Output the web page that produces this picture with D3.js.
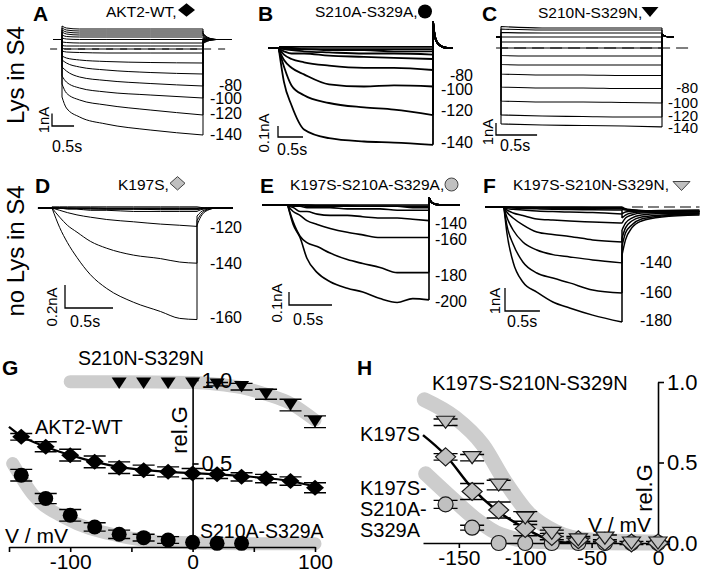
<!DOCTYPE html>
<html>
<head>
<meta charset="utf-8">
<script src="https://cdn.jsdelivr.net/npm/d3@7"></script>
<style>
body { margin: 0; background: #fff; }
svg text { font-family: "Liberation Sans", Arial, sans-serif; fill: #000; }
</style>
</head>
<body>
<svg id="fig" width="702" height="572"></svg>
<script>
// ---- current traces: time in s, current in nA, one row per step potential (mV)

// A  AKT2-WT
var tA = [0, 0.1, 0.4, 1.0, 2.0, 3.2];
var vA = [160, 140, 120, 100, 80, 60, 40, 20, 0, -20, -40, -60, -80, -100, -120, -140];
var iA = [
  [1.84, 1.68, 1.6, 1.6, 1.6, 1.6],
  [1.68, 1.52, 1.44, 1.44, 1.44, 1.44],
  [1.52, 1.36, 1.28, 1.28, 1.28, 1.28],
  [1.36, 1.2, 1.12, 1.12, 1.12, 1.12],
  [1.12, 1.0, 0.96, 0.96, 0.96, 0.96],
  [0.88, 0.8, 0.76, 0.76, 0.76, 0.76],
  [0.56, 0.52, 0.48, 0.48, 0.48, 0.48],
  [0.28, 0.24, 0.24, 0.24, 0.24, 0.24],
  [0.04, 0, 0, 0, 0, 0],
  [-0.16, -0.24, -0.28, -0.32, -0.32, -0.32],
  [-0.56, -0.72, -0.88, -1.0, -1.08, -1.12],
  [-0.88, -1.12, -1.44, -1.68, -1.88, -2.0],
  [-1.44, -1.76, -2.24, -2.52, -2.76, -2.96],
  [-2.16, -2.64, -3.12, -3.44, -3.68, -3.92],
  [-2.8, -3.52, -4.08, -4.48, -4.88, -5.28],
  [-3.84, -4.72, -5.44, -6.0, -6.48, -6.88]
];
var holdA = 0.76;
var tTailA = [3.2, 3.3, 3.5, 3.84];
var tailA = [
  [1.28, 0.95, 0.76, 0.76], [1.2, 0.92, 0.76, 0.76], [1.12, 0.9, 0.76, 0.76], [1.04, 0.86, 0.76, 0.76],
  [0.96, 0.82, 0.76, 0.76], [0.88, 0.8, 0.76, 0.76], [0.8, 0.77, 0.76, 0.76], [0.76, 0.76, 0.76, 0.76],
  [0.72, 0.75, 0.76, 0.76], [0.68, 0.73, 0.76, 0.76], [0.64, 0.72, 0.76, 0.76], [0.6, 0.7, 0.76, 0.76],
  [0.56, 0.68, 0.76, 0.76], [0.52, 0.66, 0.76, 0.76], [0.48, 0.64, 0.76, 0.76], [0.44, 0.62, 0.76, 0.76]
];

// B  S210A-S329A
var tB = [0, 0.1, 0.25, 0.5, 1.0, 1.7, 2.3, 3.08];
var vB = [20, 0, -20, -40, -60, -80, -100, -120, -140];
var iB = [
  [0.01, 0.01, 0.01, 0.01, 0.01, 0.01, 0.01, 0.01],
  [0, 0, 0, -0.01, -0.01, -0.01, -0.01, -0.01],
  [0, 0, -0.01, -0.01, -0.02, -0.02, -0.03, -0.03],
  [0, -0.01, -0.02, -0.03, -0.04, -0.05, -0.05, -0.06],
  [-0.01, -0.03, -0.05, -0.05, -0.07, -0.08, -0.09, -0.1],
  [-0.01, -0.06, -0.1, -0.13, -0.16, -0.18, -0.18, -0.2],
  [-0.02, -0.11, -0.18, -0.24, -0.33, -0.35, -0.34, -0.35],
  [-0.02, -0.17, -0.34, -0.43, -0.5, -0.54, -0.56, -0.61],
  [-0.02, -0.31, -0.52, -0.74, -0.82, -0.85, -0.86, -0.88]
];
var holdB = 0;
var tTailB = [3.08, 3.12, 3.2, 3.36, 3.48];
var tailB = [0.24, 0.1, 0.03, 0, 0];

// C  S210N-S329N
var tC = [0, 0.5, 1.0, 1.5, 1.96];
var vC = [100, 80, 60, 40, 20, 0, -20, -40, -60, -80, -100, -120, -140];
var iC = [
  [1.79, 1.67, 1.67, 1.67, 1.67],
  [1.58, 1.5, 1.5, 1.5, 1.5],
  [1.29, 1.25, 1.25, 1.25, 1.25],
  [0.92, 0.92, 0.92, 0.92, 0.92],
  [0.5, 0.5, 0.5, 0.5, 0.5],
  [0, 0, 0, 0, 0],
  [-0.63, -0.67, -0.67, -0.67, -0.67],
  [-1.38, -1.42, -1.42, -1.42, -1.42],
  [-2.17, -2.25, -2.25, -2.29, -2.29],
  [-3.25, -3.33, -3.33, -3.38, -3.38],
  [-4.42, -4.5, -4.5, -4.54, -4.58],
  [-5.58, -5.67, -5.71, -5.75, -5.75],
  [-6.33, -6.42, -6.46, -6.5, -6.58]
];
var holdC = 0.92;
var tTailC = [1.96, 2.0, 2.05, 2.1];
var tailC = [1.15, 0.98, 0.92, 0.92];

// D  K197S
var tD = [0, 0.08, 0.16, 0.26, 0.4, 0.57, 0.85, 1.13, 1.33, 1.51];
var vD = [0, -20, -40, -60, -80, -100, -120, -140, -160];
var iD = [
  [0.01, 0.01, 0.01, 0.01, 0.01, 0.01, 0.01, 0.01, 0.01, 0.01],
  [0, 0, 0, 0, 0, 0, 0, 0, 0, 0],
  [0, 0, 0, 0, 0, -0.005, -0.005, -0.005, -0.005, -0.005],
  [0, 0, 0, -0.005, -0.005, -0.01, -0.01, -0.01, -0.01, -0.01],
  [0, 0, -0.005, -0.005, -0.01, -0.01, -0.01, -0.015, -0.015, -0.015],
  [0, 0, -0.01, -0.01, -0.02, -0.02, -0.03, -0.03, -0.03, -0.03],
  [0, -0.02, -0.04, -0.06, -0.08, -0.1, -0.12, -0.14, -0.15, -0.16],
  [0, -0.08, -0.15, -0.21, -0.29, -0.35, -0.41, -0.44, -0.47, -0.48],
  [0, -0.17, -0.3, -0.43, -0.58, -0.7, -0.82, -0.9, -0.96, -0.97]
];
var holdD = 0;
var tTailD = [1.51, 1.55, 1.62, 1.72, 1.885];
var tailD = [
  [0.01, 0.005, 0, 0, 0], [0, 0, 0, 0, 0], [-0.005, 0, 0, 0, 0],
  [-0.01, -0.005, 0, 0, 0], [-0.015, -0.008, 0, 0, 0], [-0.03, -0.015, -0.005, 0, 0],
  [-0.07, -0.035, -0.01, 0, 0], [-0.11, -0.055, -0.015, 0, 0], [-0.15, -0.075, -0.02, 0, 0]
];

// E  K197S-S210A-S329A
var tE = [0, 0.06, 0.14, 0.22, 0.34, 0.49, 0.69, 0.87, 1.07, 1.27, 1.45, 1.64];
var vE = [-60, -80, -100, -120, -140, -160, -180, -200];
var iE = [
  [0, 0, 0, 0, 0, 0, 0, 0, 0, 0, 0, 0],
  [0, 0, 0, 0, -0.005, -0.005, -0.005, -0.01, -0.01, -0.01, -0.01, -0.01],
  [0, 0, 0, -0.01, -0.01, -0.01, -0.01, -0.01, -0.01, -0.01, -0.02, -0.02],
  [0, -0.01, -0.01, -0.02, -0.02, -0.02, -0.03, -0.03, -0.03, -0.04, -0.04, -0.04],
  [-0.01, -0.02, -0.05, -0.05, -0.07, -0.08, -0.08, -0.09, -0.1, -0.1, -0.11, -0.12],
  [-0.01, -0.05, -0.08, -0.12, -0.15, -0.18, -0.21, -0.23, -0.25, -0.25, -0.25, -0.25],
  [-0.01, -0.13, -0.24, -0.29, -0.32, -0.37, -0.42, -0.45, -0.48, -0.52, -0.52, -0.52],
  [-0.01, -0.15, -0.25, -0.41, -0.52, -0.59, -0.64, -0.67, -0.72, -0.75, -0.72, -0.73]
];
var holdE = 0;
var tTailE = [1.64, 1.67, 1.72, 1.8, 2.0];
var tailE = [0.06, 0.02, 0.005, 0, 0];

// F  K197S-S210N-S329N
var tF = [0, 0.04, 0.13, 0.27, 0.47, 0.7, 0.94, 1.27, 1.69];
var vF = [0, -20, -40, -60, -80, -100, -120, -140, -160, -180];
var iF = [
  [0, 0, 0, 0, 0, 0, 0, 0, 0],
  [0, 0, -0.01, -0.01, -0.02, -0.02, -0.02, -0.03, -0.03],
  [0, -0.01, -0.02, -0.03, -0.04, -0.05, -0.06, -0.07, -0.08],
  [0, -0.02, -0.04, -0.06, -0.08, -0.1, -0.11, -0.12, -0.13],
  [-0.04, -0.07, -0.1, -0.13, -0.17, -0.2, -0.22, -0.24, -0.3],
  [-0.04, -0.13, -0.26, -0.37, -0.52, -0.57, -0.61, -0.65, -0.7],
  [-0.04, -0.22, -0.48, -0.78, -1.09, -1.2, -1.28, -1.43, -1.52],
  [-0.04, -0.43, -1.0, -1.52, -1.87, -2.07, -2.17, -2.3, -2.43],
  [-0.04, -0.78, -1.61, -2.39, -2.87, -3.09, -3.3, -3.61, -3.74],
  [-0.04, -1.09, -2.39, -3.26, -3.7, -4.13, -4.39, -4.7, -5.0]
];
var holdF = 0;
var tTailF = [1.69, 1.74, 1.83, 1.97, 2.26, 2.8];
var tailF = [
  [0, -0.08, -0.12, -0.15, -0.17, -0.18],
  [-0.05, -0.1, -0.14, -0.17, -0.19, -0.2],
  [-0.1, -0.13, -0.16, -0.18, -0.2, -0.21],
  [-0.3, -0.22, -0.18, -0.17, -0.15, -0.13],
  [-0.48, -0.35, -0.26, -0.22, -0.2, -0.17],
  [-0.7, -0.48, -0.35, -0.26, -0.24, -0.22],
  [-1.0, -0.7, -0.48, -0.35, -0.28, -0.26],
  [-1.35, -0.91, -0.61, -0.43, -0.35, -0.28],
  [-1.7, -1.13, -0.78, -0.52, -0.39, -0.3],
  [-2.09, -1.43, -0.91, -0.61, -0.43, -0.35]
];

// ---- G: rel. conductance vs voltage
var mvG_N = [-60, -40, -20, 0, 20, 40, 60, 80, 100];
var gG_N = [0.98, 0.98, 0.98, 0.98, 0.975, 0.96, 0.915, 0.85, 0.75];
var eG_N = [0, 0, 0, 0, 0.01, 0.02, 0.03, 0.035, 0.035];
var mvG_WT = [-140, -120, -100, -80, -60, -40, -20, 0, 20, 40, 60, 80, 100];
var gG_WT = [0.66, 0.6, 0.55, 0.51, 0.475, 0.46, 0.45, 0.44, 0.435, 0.42, 0.41, 0.395, 0.355];
var eG_WT = [0.02, 0.03, 0.035, 0.035, 0.035, 0.03, 0.03, 0.03, 0.025, 0.025, 0.025, 0.025, 0.03];
var mvG_A = [-140, -120, -100, -80, -60, -40, -20, 0, 20, 40];
var gG_A = [0.43, 0.29, 0.19, 0.12, 0.076, 0.056, 0.042, 0.028, 0.022, 0.022];
var eG_A = [0.035, 0.03, 0.035, 0.025, 0.025, 0.02, 0.02, 0, 0, 0];
var fitG_mv = [-150, -140, -120, -100, -80, -60, -40, -20, 0, 20, 40, 60, 80, 100];
var fitG_WT = [0.72, 0.665, 0.6, 0.55, 0.51, 0.48, 0.462, 0.45, 0.442, 0.435, 0.425, 0.412, 0.395, 0.36];
var bandG_N_mv = [-100, -60, 0, 20, 40, 60, 80, 100];
var bandG_N = [0.99, 0.99, 0.985, 0.975, 0.955, 0.915, 0.86, 0.76];
var bandG_A_mv = [-147, -130, -103, -62, -21, 40, 100];
var bandG_A = [0.5, 0.31, 0.17, 0.07, 0.03, 0.02, 0.02];

// ---- H
var mvH = [-160, -140, -120, -100, -80, -60, -40, -20, 0];
var gH_N = [0.75, 0.53, 0.36, 0.155, 0.06, 0.02, 0.03, 0, 0];
var eH_N = [0.02, 0.02, 0.03, 0.04, 0.02, 0.02, 0.02, 0.01, 0.01];
var gH_K = [0.535, 0.32, 0.205, 0.09, 0.04, 0.02, 0.01, 0, 0];
var eH_K = [0.02, 0.05, 0.05, 0.045, 0.02, 0.01, 0.01, 0, 0];
var gH_A = [0.24, 0.095, 0, 0, 0, 0, 0, 0, 0];
var eH_A = [0.025, 0.015, 0, 0, 0, 0, 0, 0, 0];
var fitH_mv = [-177, -160, -141, -122, -102, -88, -78, -60];
var fitH_K = [0.67, 0.545, 0.35, 0.205, 0.1, 0.04, 0.01, 0];
var bandH_N_mv = [-176, -153, -132, -115, -98, -77, -53, 0];
var bandH_N = [0.89, 0.78, 0.61, 0.38, 0.19, 0.07, 0.02, 0.005];
var bandH_A_mv = [-175, -158, -138, -118, -90, 0];
var bandH_A = [0.43, 0.3, 0.153, 0.05, 0.01, 0];

var svg = d3.select("#fig");
var grayFill = "#c0c0c0";
var bandCol = "#cdcdcd";

function txt(x, y, s, size, extra) {
  var t = svg.append("text").attr("x", x).attr("y", y).style("font-size", size + "px").text(s);
  if (extra) t.style("font-weight", extra);
  return t;
}

// marker shapes
function diamond(w, h) { return "M0," + (-h) + "L" + w + ",0L0," + h + "L" + (-w) + ",0Z"; }
function triDown(w, h) { return "M" + (-w) + "," + (-h / 2) + "L" + w + "," + (-h / 2) + "L0," + (h / 2) + "Z"; }
function circ(r) { return d3.symbol().type(d3.symbolCircle).size(Math.PI * r * r)(); }

// draw one panel of current traces
function traces(c) {
  var x = d3.scaleLinear().domain([0, c.tEnd]).range([c.x0, c.x1]);
  var y = d3.scaleLinear().domain([0, -c.barI]).range([c.y0, c.y0 + c.barPx]);
  var g = svg.append("g");
  var straight = d3.line().x(d => x(d[0])).y(d => y(d[1]));
  var smooth = d3.line().curve(d3.curveMonotoneX).x(d => x(d[0])).y(d => y(d[1]));

  if (c.dash) {
    g.append("line")
      .attr("x1", x(c.dash[0])).attr("x2", x(c.dash[1]))
      .attr("y1", y(0)).attr("y2", y(0))
      .attr("stroke", "#000").attr("stroke-width", 1.2)
      .attr("stroke-dasharray", c.dashArray);
  }

  c.I.forEach(function(vals, k) {
    var tail = Array.isArray(c.tail[0]) ? c.tail[k] : c.tail;
    var last = vals[vals.length - 1];
    var d = straight([[c.tPre, c.hold], [0, c.hold], [0, vals[0]]]) +
      smooth(c.t.map((t, i) => [t, vals[i]])) +
      straight([[c.tEnd, last], [c.tEnd, tail[0]]]) +
      smooth(c.tTail.map((t, i) => [t, tail[i]]));
    g.append("path").attr("d", d)
      .attr("fill", "none").attr("stroke", "#000")
      .attr("stroke-width", c.sw).attr("stroke-linejoin", "round");
  });

  // step potential labels next to trace ends (small nudges keep them apart)
  c.lab.forEach(function(v, j) {
    var vals = c.I[c.v.indexOf(v)];
    g.append("text")
      .attr("x", c.labX).attr("y", y(vals[vals.length - 1]) + c.labOff[j])
      .attr("dy", "0.35em").attr("text-anchor", "end")
      .style("font-size", c.labSize + "px").text(v);
  });

  // scale bar
  var bx = c.bar[0], by = c.bar[1];
  var w = x(0.5) - x(0), h = y(-c.barI) - y(0);
  g.append("path").attr("d", "M" + bx + "," + (by - h) + "V" + by + "H" + (bx + w))
    .attr("fill", "none").attr("stroke", "#000").attr("stroke-width", 1.3);
  g.append("text")
    .attr("transform", "translate(" + c.iLab[0] + "," + c.iLab[1] + ") rotate(-90)")
    .attr("text-anchor", "middle").style("font-size", "15px").text(c.barText);
  g.append("text").attr("x", c.tLab[0]).attr("y", c.tLab[1]).style("font-size", "16px").text("0.5s");
}

traces({t: tA, v: vA, I: iA, hold: holdA, tTail: tTailA, tail: tailA,
  tEnd: 3.2, x0: 62, x1: 203, y0: 49, barI: 1, barPx: 12.5, tPre: -0.2, sw: 1,
  dash: [-0.27, 3.84], dashArray: "7,7", lab: [-80, -100, -120, -140], labX: 242,
  labOff: [-1, 0, -2, -1], labSize: 16,
  bar: [52, 126], iLab: [49, 120], barText: "1nA", tLab: [52, 152]});

traces({t: tB, v: vB, I: iB, hold: holdB, tTail: tTailB, tail: tailB,
  tEnd: 3.08, x0: 279, x1: 433, y0: 48, barI: 0.1, barPx: 11, tPre: -0.22, sw: 1.8,
  dash: null, lab: [-80, -100, -120, -140], labX: 473,
  labOff: [5, 3, -5, -2], labSize: 16,
  bar: [278, 137], iLab: [269, 133], barText: "0.1nA", tLab: [277, 155]});

traces({t: tC, v: vC, I: iC, hold: holdC, tTail: tTailC, tail: tailC,
  tEnd: 1.96, x0: 501, x1: 662, y0: 48, barI: 1, barPx: 12, tPre: -0.06, sw: 1.1,
  dash: [-0.06, 2.3], dashArray: "12,6", lab: [-80, -100, -120, -140], labX: 698,
  labOff: [-1, 0, -1, 1], labSize: 15,
  bar: [496, 135], iLab: [493, 132], barText: "1nA", tLab: [500, 151]});

traces({t: tD, v: vD, I: iD, hold: holdD, tTail: tTailD, tail: tailD,
  tEnd: 1.51, x0: 52, x1: 197, y0: 208, barI: 0.2, barPx: 23, tPre: -0.146, sw: 1,
  dash: null, lab: [-120, -140, -160], labX: 242,
  labOff: [1, 0, -2], labSize: 16,
  bar: [65, 308], iLab: [57, 307], barText: "0.2nA", tLab: [70, 327]});

traces({t: tE, v: vE, I: iE, hold: holdE, tTail: tTailE, tail: tailE,
  tEnd: 1.64, x0: 288, x1: 429, y0: 205, barI: 0.1, barPx: 13, tPre: -0.3, sw: 1.6,
  dash: null, lab: [-140, -160, -180, -200], labX: 467,
  labOff: [3, 2, 3, 1], labSize: 16,
  bar: [289, 305], iLab: [282, 303], barText: "0.1nA", tLab: [293, 325]});

traces({t: tF, v: vF, I: iF, hold: holdF, tTail: tTailF, tail: tailF,
  tEnd: 1.69, x0: 504, x1: 622, y0: 207, barI: 1, barPx: 23, tPre: -0.27, sw: 1.5,
  dash: [1.833, 2.8], dashArray: "11,5", lab: [-140, -160, -180], labX: 672,
  labOff: [0, -1, -2], labSize: 16,
  bar: [505, 311], iLab: [500, 301], barText: "1nA", tLab: [507, 327]});

// panel letters and titles
[["A", 33, 21], ["B", 258, 21], ["C", 482, 21], ["D", 35, 193], ["E", 260, 193], ["F", 483, 193],
 ["G", 2, 375], ["H", 357, 375]].forEach(function(p) { txt(p[1], p[2], p[0], 21, "bold"); });

txt(106, 17, "AKT2-WT,", 15.5);
txt(315, 17, "S210A-S329A,", 15.5);
txt(538, 18, "S210N-S329N,", 15.5);
txt(118, 190, "K197S,", 15.5);
txt(290, 190, "K197S-S210A-S329A,", 15.5);
txt(513, 190, "K197S-S210N-S329N,", 15.5);

svg.append("path").attr("transform", "translate(186.5,10)").attr("d", diamond(8.5, 6.7)).attr("fill", "#000");
svg.append("path").attr("transform", "translate(425,11.5)").attr("d", circ(7)).attr("fill", "#000");
svg.append("path").attr("transform", "translate(650,12)").attr("d", triDown(8.5, 10)).attr("fill", "#000");
svg.append("path").attr("transform", "translate(177.5,183.3)").attr("d", diamond(7.5, 6.7))
  .attr("fill", grayFill).attr("stroke", "#444").attr("stroke-width", 1);
svg.append("path").attr("transform", "translate(451.5,184.5)").attr("d", circ(6.5))
  .attr("fill", grayFill).attr("stroke", "#444").attr("stroke-width", 1);
svg.append("path").attr("transform", "translate(681.5,186)").attr("d", triDown(8.5, 9))
  .attr("fill", grayFill).attr("stroke", "#444").attr("stroke-width", 1);

// row labels
svg.append("text").attr("transform", "translate(24,75) rotate(-90)").attr("text-anchor", "middle")
  .style("font-size", "24px").text("Lys in S4");
svg.append("text").attr("transform", "translate(24,251) rotate(-90)").attr("text-anchor", "middle")
  .style("font-size", "24px").text("no Lys in S4");

// ---- helpers for conductance plots
function band(xs, ys, mv, vals, w) {
  var line = d3.line().curve(d3.curveMonotoneX).x((d, i) => xs(mv[i])).y(d => ys(d));
  svg.append("path").attr("d", line(vals)).attr("fill", "none")
    .attr("stroke", bandCol).attr("stroke-width", w).attr("stroke-linecap", "round");
}
function fit(xs, ys, mv, vals, w) {
  var line = d3.line().curve(d3.curveMonotoneX).x((d, i) => xs(mv[i])).y(d => ys(d));
  svg.append("path").attr("d", line(vals)).attr("fill", "none")
    .attr("stroke", "#000").attr("stroke-width", w);
}
function errBars(xs, ys, mv, vals, errs, cap) {
  mv.forEach(function(m, i) {
    if (!errs[i]) return;
    var cx = xs(m), y1 = ys(vals[i] + errs[i]), y2 = ys(vals[i] - errs[i]);
    svg.append("path")
      .attr("d", "M" + cx + "," + y1 + "V" + y2 + "M" + (cx - cap) + "," + y1 + "H" + (cx + cap) +
        "M" + (cx - cap) + "," + y2 + "H" + (cx + cap))
      .attr("fill", "none").attr("stroke", "#000").attr("stroke-width", 1.4);
  });
}
function marks(xs, ys, mv, vals, shape, fill) {
  svg.append("g").selectAll("path").data(mv).enter().append("path")
    .attr("transform", (d, i) => "translate(" + xs(d) + "," + ys(vals[i]) + ")")
    .attr("d", shape)
    .attr("fill", fill)
    .attr("stroke", fill === "#000" ? "none" : "#1a1a1a")
    .attr("stroke-width", 1.2);
}
function styleAxis(g, size) {
  g.attr("font-size", null).attr("font-family", null);
  g.selectAll("path, line").attr("stroke", "#000").attr("stroke-width", 1.6);
  g.selectAll("text").style("font-size", size + "px");
}

// ---- G
var xG = d3.scaleLinear().domain([-150, 100]).range([9, 315]);
var yG = d3.scaleLinear().domain([0, 1]).range([547, 380]);

band(xG, yG, bandG_N_mv, bandG_N, 13);
band(xG, yG, bandG_A_mv, bandG_A, 13);

var gxG = svg.append("g").attr("transform", "translate(0,547)")
  .call(d3.axisBottom(xG).tickValues([-150, -100, -50, 0, 50, 100])
    .tickFormat(d => d % 100 === 0 ? d : "").tickSize(5).tickSizeOuter(0).tickPadding(2));
styleAxis(gxG, 21);
var gyG = svg.append("g").attr("transform", "translate(" + xG(0) + ",0)")
  .call(d3.axisRight(yG).tickValues([0.5, 1]).tickFormat(d3.format(".1f"))
    .tickSize(6).tickSizeOuter(0).tickPadding(3));
styleAxis(gyG, 22);

fit(xG, yG, fitG_mv, fitG_WT, 2.2);
errBars(xG, yG, mvG_N, gG_N, eG_N, 11);
errBars(xG, yG, mvG_WT, gG_WT, eG_WT, 11);
errBars(xG, yG, mvG_A, gG_A, eG_A, 11);
marks(xG, yG, mvG_N, gG_N, triDown(7.5, 11.5), "#000");
marks(xG, yG, mvG_WT, gG_WT, diamond(9, 8), "#000");
marks(xG, yG, mvG_A, gG_A, circ(7.5), "#000");

txt(78, 365, "S210N-S329N", 19.5);
txt(35, 434, "AKT2-WT", 20);
txt(200, 538, "S210A-S329A", 19.5);
txt(5, 543, "V / mV", 21);
svg.append("text").attr("transform", "translate(187,430) rotate(-90)").attr("text-anchor", "middle")
  .style("font-size", "22px").text("rel.G");

// ---- H
var xH = d3.scaleLinear().domain([-177, 0]).range([423, 658]);
var yH = d3.scaleLinear().domain([0, 1]).range([543, 382]);

band(xH, yH, bandH_N_mv, bandH_N, 15);
band(xH, yH, bandH_A_mv, bandH_A, 15);

var gxH = svg.append("g").attr("transform", "translate(0,543)")
  .call(d3.axisBottom(xH).tickValues([-150, -100, -50, 0]).tickFormat(d => d)
    .tickSize(5).tickSizeOuter(0).tickPadding(2));
styleAxis(gxH, 21);
var gyH = svg.append("g").attr("transform", "translate(" + xH(0) + ",0)")
  .call(d3.axisRight(yH).tickValues([0, 0.5, 1]).tickFormat(d3.format(".1f"))
    .tickSize(6).tickSizeOuter(0).tickPadding(3));
styleAxis(gyH, 22);

fit(xH, yH, fitH_mv, fitH_K, 2.5);
errBars(xH, yH, mvH, gH_N, eH_N, 12);
errBars(xH, yH, mvH, gH_K, eH_K, 12);
errBars(xH, yH, mvH, gH_A, eH_A, 12);
marks(xH, yH, mvH, gH_A, circ(7.5), grayFill);
marks(xH, yH, mvH, gH_K, diamond(10, 9), grayFill);
marks(xH, yH, mvH, gH_N, triDown(9, 12), grayFill);

txt(432, 390, "K197S-S210N-S329N", 20);
txt(360, 441, "K197S", 20);
txt(360, 495, "K197S-", 20);
txt(360, 516, "S210A-", 20);
txt(360, 537, "S329A", 20);
txt(588, 532, "V / mV", 21);
svg.append("text").attr("transform", "translate(652,488) rotate(-90)").attr("text-anchor", "middle")
  .style("font-size", "22px").text("rel.G");
</script>
</body>
</html>
